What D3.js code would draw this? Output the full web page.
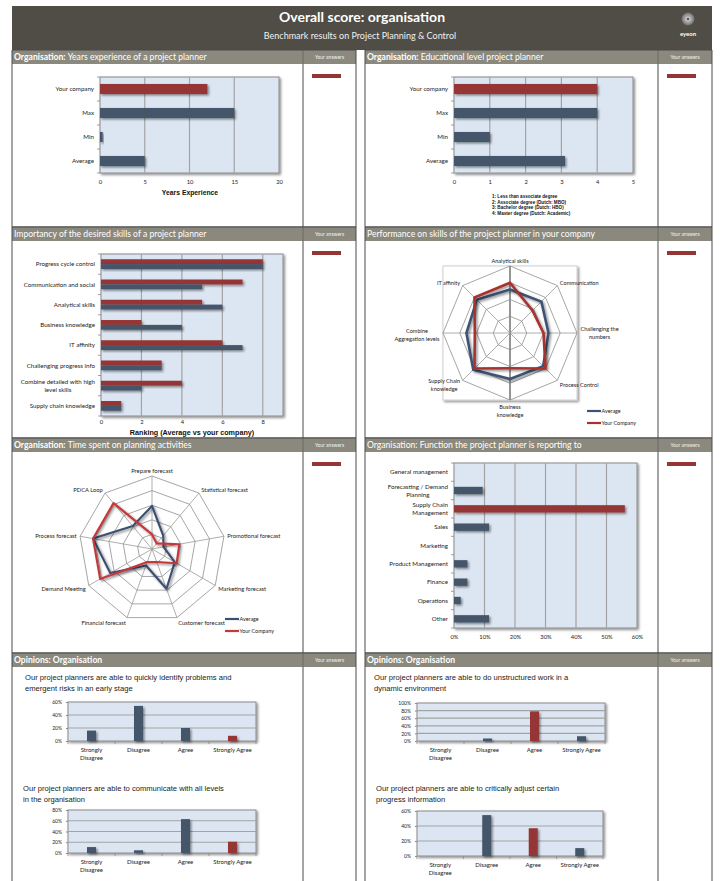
<!DOCTYPE html>
<html>
<head>
<meta charset="utf-8">
<script src="https://cdn.jsdelivr.net/npm/d3@7"></script>
<style>
body { margin: 0; background: #fff; }
svg { display: block; }
</style>
</head>
<body>
<script>
// ---- data ----
var yearsCats = ["Your company", "Max", "Min", "Average"];
var yearsValues = [12, 15, 0.3, 5];
var yearsTicks = [0, 5, 10, 15, 20];

var eduCats = ["Your company", "Max", "Min", "Average"];
var eduValues = [4, 4, 1, 3.1];
var eduTicks = [0, 1, 2, 3, 4, 5];
var eduNotes = ["1: Less than associate degree", "2: Associate degree (Dutch: MBO)",
                "3: Bachelor degree (Dutch: HBO)", "4: Master degree (Dutch: Academic)"];

var skillCats = ["Progress cycle control", "Communication and social", "Analytical skills",
                 "Business knowledge", "IT affinity", "Challenging progress info",
                 "Combine detailed with high\nlevel skills", "Supply chain knowledge"];
var skillCompany = [8, 7, 5, 2, 6, 3, 4, 1];
var skillAverage = [8, 5, 6, 4, 7, 3, 2, 1];
var skillTicks = [0, 2, 4, 6, 8];

var perfAxes = ["Analytical skills", "Communication", "Challenging the\nnumbers", "Process Control",
                "Business\nknowledge", "Supply Chain\nknowledge", "Combine\nAggregation levels", "IT affinity"];
var perfAverage = [2.6, 2.65, 2.3, 2.8, 2.75, 3.1, 2.6, 2.8];
var perfCompany = [3.0, 1.9, 2.0, 3.0, 2.1, 3.0, 2.1, 3.0];

var timeAxes = ["Prepare forecast", "Statistical forecast", "Promotional forecast", "Marketing forecast",
                "Customer forecast", "Financial forecast", "Demand Meeting", "Process forecast", "PDCA Loop"];
var timeAverage = [2.95, 1.2, 0.8, 1.8, 2.9, 1.2, 3.3, 4.1, 2.05];
var timeCompany = [1.0, 0.5, 1.9, 1.95, 0.95, 0.95, 4.1, 4.1, 4.1];

var funcCats = ["General management", "Forecasting / Demand\nPlanning", "Supply Chain\nManagement", "Sales",
                "Marketing", "Product Management", "Finance", "Operations", "Other"];
var funcShares = [0, 0.094, 0.56, 0.115, 0, 0.044, 0.044, 0.022, 0.115];
var funcAnswer = 2;
var funcTicks = [0, 0.1, 0.2, 0.3, 0.4, 0.5, 0.6];

var opinionCats = ["Strongly\nDisagree", "Disagree", "Agree", "Strongly Agree"];
var opinionQuestions = ["Our project planners are able to quickly identify problems and\nemergent risks in an early stage",
                        "Our project planners are able to do unstructured work in a\ndynamic environment",
                        "Our project planners are able to communicate with all levels\nin the organisation",
                        "Our project planners are able to critically adjust certain\nprogress information"];
var opinionIdentify = [0.16, 0.54, 0.20, 0.08];
var opinionUnstructured = [0, 0.065, 0.78, 0.125];
var opinionCommunicate = [0.11, 0.05, 0.63, 0.21];
var opinionAdjust = [0, 0.545, 0.37, 0.105];
var opinionAnswers = [3, 2, 3, 2];
var opinionMax = [0.6, 1, 0.8, 0.6];

// ---- style ----
var BLUE = "#44546a", RED = "#963634", PLOT = "#dce6f2", GRID = "#a3a3a3", FRAME = "#8a8a8a";
var BAR_HEAD = "#8b897d", DARK = "#4f4d45", LINE = "#4a4a4a";
var FONT = "Lato, 'Open Sans', sans-serif";
var ARIAL = "'Liberation Sans', Arial, sans-serif";

var svg = d3.select("body").append("svg")
  .attr("width", 720).attr("height", 881)
  .style("font-family", FONT);

var defs = svg.append("defs");
defs.append("filter").attr("id", "shadow")
  .attr("x", "-20%").attr("y", "-40%").attr("width", "160%").attr("height", "200%")
  .append("feDropShadow").attr("dx", 1.5).attr("dy", 1.5).attr("stdDeviation", 0.9)
  .attr("flood-color", "#000").attr("flood-opacity", 0.45);
var grad = defs.append("radialGradient").attr("id", "logo");
grad.append("stop").attr("offset", "0%").attr("stop-color", "#e0e0e0");
grad.append("stop").attr("offset", "100%").attr("stop-color", "#6d6d6d");

// split "\n" labels into centred tspans; side tells where x sits relative to the block
function multiline(sel, side, mode, lh) {
  sel.each(function () {
    var t = d3.select(this);
    var lines = t.text().split("\n");
    var x0 = +t.attr("x") || 0;
    var fs = parseFloat(t.attr("font-size")) || 6;
    lh = lh || fs * 1.2;
    t.text(null).attr("dy", null);
    var spans = lines.map(function (l) { return t.append("tspan").attr("x", x0).text(l); });
    var w = d3.max(spans, function (s) { return s.node().getComputedTextLength(); });
    var cx = side === "end" ? x0 - w / 2 : side === "start" ? x0 + w / 2 : x0;
    t.attr("text-anchor", "middle");
    var n = lines.length;
    spans.forEach(function (s, i) {
      s.attr("x", cx);
      if (i === 0) {
        if (mode === "top") s.attr("dy", fs * 0.75);
        else if (mode === "above") s.attr("dy", -(n - 1) * lh);
        else s.attr("dy", fs * 0.35 - (n - 1) * lh / 2);
      } else s.attr("dy", lh);
    });
  });
}

// ---- page header ----
svg.append("rect").attr("x", 12).attr("y", 6).attr("width", 700).attr("height", 44).attr("fill", DARK);
svg.append("text").attr("x", 362).attr("y", 22).attr("text-anchor", "middle")
  .attr("font-weight", "bold").attr("font-size", 14).attr("fill", "#fff")
  .text("Overall score: organisation");
svg.append("text").attr("x", 360).attr("y", 39).attr("text-anchor", "middle")
  .attr("font-size", 9).attr("fill", "#f0f0f0")
  .text("Benchmark results on Project Planning & Control");
svg.append("circle").attr("cx", 688).attr("cy", 19).attr("r", 6.5).attr("fill", "url(#logo)");
svg.append("circle").attr("cx", 688).attr("cy", 19).attr("r", 1.2).attr("fill", "#555");
svg.append("text").attr("x", 688).attr("y", 35.5).attr("text-anchor", "middle")
  .attr("font-size", 6).attr("font-weight", "bold").attr("fill", "#fff").text("eyeon");

// ---- panels ----
var cols = [{ x0: 12, x1: 356, div: 303 }, { x0: 365, x1: 712, div: 658 }];
var rows = [50, 227, 438, 653, 882];

function panel(c, top, bottom, boldText, rest, swatch) {
  var g = svg.append("g");
  g.append("rect").attr("x", c.x0).attr("y", top).attr("width", c.x1 - c.x0).attr("height", 14)
    .attr("fill", BAR_HEAD);
  g.append("line").attr("x1", c.div).attr("x2", c.div).attr("y1", top).attr("y2", top + 14)
    .attr("stroke", "#d8d6cc").attr("stroke-width", 0.8);
  var t = g.append("text").attr("x", c.x0 + 2).attr("y", top + 10.2)
    .attr("font-size", 8.6).attr("fill", "#fff");
  if (boldText) t.append("tspan").attr("font-weight", "bold").text(boldText);
  if (rest) t.append("tspan").text(rest);
  g.append("text").attr("x", (c.div + c.x1) / 2).attr("y", top + 9)
    .attr("text-anchor", "middle").attr("font-size", 5).attr("fill", "#f2f2f2").text("Your answers");
  [c.x0, c.div, c.x1].forEach(function (x) {
    g.append("line").attr("x1", x).attr("x2", x).attr("y1", top).attr("y2", bottom)
      .attr("stroke", LINE).attr("stroke-width", 1);
  });
  g.append("line").attr("x1", c.x0).attr("x2", c.x1).attr("y1", top).attr("y2", top)
    .attr("stroke", LINE).attr("stroke-width", 1);
  g.append("line").attr("x1", c.x0).attr("x2", c.x1).attr("y1", bottom).attr("y2", bottom)
    .attr("stroke", LINE).attr("stroke-width", 1);
  if (swatch) {
    g.append("rect").attr("x", c.div + 9).attr("y", top + 24).attr("width", 29).attr("height", 4)
      .attr("fill", RED);
  }
}

panel(cols[0], rows[0], rows[1], "Organisation: ", "Years experience of a project planner", true);
panel(cols[1], rows[0], rows[1], "Organisation: ", "Educational level project planner", true);
panel(cols[0], rows[1], rows[2], "", "Importancy of the desired skills of a project planner", true);
panel(cols[1], rows[1], rows[2], "", "Performance on skills of the project planner in your company", true);
panel(cols[0], rows[2], rows[3], "Organisation: ", "Time spent on planning activities", true);
panel(cols[1], rows[2], rows[3], "", "Organisation: Function the project planner is reporting to", true);
panel(cols[0], rows[3], rows[4], "Opinions: Organisation", "", false);
panel(cols[1], rows[3], rows[4], "Opinions: Organisation", "", false);

// ---- horizontal bar chart ----
function plotFrame(p) {
  svg.append("rect").attr("x", p.x).attr("y", p.y).attr("width", p.w).attr("height", p.h)
    .attr("fill", PLOT).attr("stroke", FRAME).attr("stroke-width", 1).attr("filter", "url(#shadow)");
}

function hbarChart(p, cats, series, domain, ticks, fmt, ratio, pad) {
  plotFrame(p);
  var x = d3.scaleLinear().domain(domain).range([p.x, p.x + p.w]);
  var y = d3.scaleBand().domain(cats).range([p.y, p.y + p.h]);
  var g = svg.append("g");
  g.selectAll("line.grid").data(ticks.filter(function (t) { return t > domain[0] && t < domain[1]; }))
    .join("line").attr("class", "grid")
    .attr("x1", function (d) { return x(d); }).attr("x2", function (d) { return x(d); })
    .attr("y1", p.y).attr("y2", p.y + p.h).attr("stroke", GRID).attr("stroke-width", 1.2);
  var bh = y.bandwidth() * ratio / series.length;
  var off = y.bandwidth() * (1 - ratio) / 2;
  series.forEach(function (s, si) {
    g.append("g").selectAll("rect").data(cats).join("rect")
      .attr("x", x(0))
      .attr("y", function (d) { return y(d) + off + si * bh; })
      .attr("width", function (d, i) { return Math.max(0, x(s.values[i]) - x(0)); })
      .attr("height", bh)
      .attr("fill", function (d, i) { return s.color(i); })
      .attr("filter", "url(#shadow)");
  });
  // category boundary ticks
  g.selectAll("line.ct").data(d3.range(cats.length + 1)).join("line").attr("class", "ct")
    .attr("x1", p.x - 3).attr("x2", p.x)
    .attr("y1", function (i) { return p.y + i * y.step(); })
    .attr("y2", function (i) { return p.y + i * y.step(); })
    .attr("stroke", FRAME).attr("stroke-width", 0.8);

  var xa = svg.append("g").attr("transform", "translate(0," + (p.y + p.h) + ")")
    .call(d3.axisBottom(x).tickValues(ticks).tickFormat(fmt).tickSize(0).tickPadding(pad || 7));
  xa.select(".domain").remove();
  xa.attr("font-family", FONT).attr("font-size", 5.8);
  xa.selectAll("text").attr("fill", "#222");

  var ya = svg.append("g").attr("transform", "translate(" + p.x + ",0)")
    .call(d3.axisLeft(y).tickSize(0).tickPadding(6));
  ya.select(".domain").remove();
  ya.attr("font-family", FONT).attr("font-size", 6.2);
  ya.selectAll("text").attr("fill", "#222").attr("font-size", 6.2).call(multiline, "end", "center", 8);
  return x;
}

// years experience
var yearsP = { x: 100, y: 77, w: 179, h: 96 };
hbarChart(yearsP, yearsCats, [{ values: yearsValues, color: function (i) { return i === 0 ? RED : BLUE; } }],
  [0, 20], yearsTicks, d3.format("d"), 0.42);
svg.append("text").attr("x", 190).attr("y", 195).attr("text-anchor", "middle")
  .attr("font-family", ARIAL).attr("font-weight", "bold").attr("font-size", 6.8).attr("fill", "#111")
  .text("Years Experience");

// educational level
var eduP = { x: 454, y: 77, w: 179, h: 96 };
hbarChart(eduP, eduCats, [{ values: eduValues, color: function (i) { return i === 0 ? RED : BLUE; } }],
  [0, 5], eduTicks, d3.format("d"), 0.42);
svg.append("g").selectAll("text").data(eduNotes).join("text")
  .attr("x", 492).attr("y", function (d, i) { return 198 + i * 5.6; })
  .attr("font-family", ARIAL).attr("font-weight", "bold").attr("font-size", 4.6).attr("fill", "#111")
  .text(function (d) { return d; });

// skills ranking
var skillP = { x: 101, y: 254, w: 182, h: 162 };
hbarChart(skillP, skillCats, [
  { values: skillCompany, color: function () { return RED; } },
  { values: skillAverage, color: function () { return BLUE; } }
], [0, 9], skillTicks, d3.format("d"), 0.48, 3.5);
svg.append("text").attr("x", 192).attr("y", 435).attr("text-anchor", "middle")
  .attr("font-family", ARIAL).attr("font-weight", "bold").attr("font-size", 7.2).attr("fill", "#111")
  .text("Ranking (Average vs your company)");

// function reporting to
var funcP = { x: 454, y: 463, w: 183, h: 165 };
hbarChart(funcP, funcCats, [{ values: funcShares, color: function (i) { return i === funcAnswer ? RED : BLUE; } }],
  [0, 0.6], funcTicks, d3.format(".0%"), 0.4);

// ---- radar charts ----
function radar(cx, cy, r, axes, levels, series, cfg) {
  var n = axes.length;
  var rs = d3.scaleLinear().domain([0, levels]).range([0, r]);
  var ang = function (i) { return i * 2 * Math.PI / n; };
  var g = svg.append("g").attr("transform", "translate(" + cx + "," + cy + ")");
  if (cfg.box) {
    g.append("rect").attr("x", -r).attr("y", -r).attr("width", 2 * r).attr("height", 2 * r)
      .attr("fill", "#fff").attr("stroke", "#d0d0d0").attr("filter", "url(#shadow)");
  }
  var ring = d3.lineRadial().angle(function (d, i) { return ang(i); })
    .radius(function (d) { return rs(d); }).curve(d3.curveLinearClosed);
  d3.range(1, levels + 1).forEach(function (l) {
    g.append("path").attr("d", ring(axes.map(function () { return l; })))
      .attr("fill", "none").attr("stroke", "#8f8f8f").attr("stroke-width", 0.8);
  });
  axes.forEach(function (a, i) {
    var heavy = cfg.box && (i === 0 || ang(i) === Math.PI);
    g.append("line").attr("x1", 0).attr("y1", 0)
      .attr("x2", Math.sin(ang(i)) * r).attr("y2", -Math.cos(ang(i)) * r)
      .attr("stroke", heavy ? "#8a8a8a" : "#9a9a9a").attr("stroke-width", heavy ? 1.8 : 0.8);
  });
  series.forEach(function (s) {
    g.append("path").attr("d", ring(s.values))
      .attr("fill", "none").attr("stroke", s.color).attr("stroke-width", cfg.lw)
      .attr("stroke-linejoin", "round").attr("filter", "url(#shadow)");
  });
  axes.forEach(function (a, i) {
    var sn = Math.sin(ang(i)), cs = Math.cos(ang(i));
    var lx = sn * (r + 3.5), ly = -cs * (r + 3.5);
    var side = Math.abs(sn) < 0.05 ? "middle" : sn > 0 ? "start" : "end";
    var mode = cs > 0.95 ? "above" : cs < -0.95 ? "top" : "center";
    if (mode === "top") ly += 1.5;
    if (mode === "center" && cs < 0) ly += 2;
    g.append("text").attr("x", lx).attr("y", ly).attr("font-size", cfg.fs).attr("fill", "#222")
      .text(a).call(multiline, side, mode, cfg.fs * 1.45);
  });
  var lg = svg.append("g");
  series.forEach(function (s, i) {
    var yy = cfg.legend[1] + i * 12;
    lg.append("line").attr("x1", cfg.legend[0]).attr("x2", cfg.legend[0] + 14).attr("y1", yy).attr("y2", yy)
      .attr("stroke", s.color).attr("stroke-width", 2.2);
    lg.append("text").attr("x", cfg.legend[0] + 14.5).attr("y", yy + 1.8).attr("font-size", 5.4)
      .attr("fill", "#222").text(s.name);
  });
}

radar(510, 333, 67, perfAxes, 4, [
  { name: "Average", values: perfAverage, color: "#3e5275" },
  { name: "Your Company", values: perfCompany, color: "#a8302f" }
], { box: true, lw: 2.6, fs: 5.6, legend: [587, 411] });

radar(152, 549, 73, timeAxes, 5, [
  { name: "Average", values: timeAverage, color: "#3d4f70" },
  { name: "Your Company", values: timeCompany, color: "#c4393b" }
], { box: false, lw: 2.1, fs: 5.8, legend: [225, 619] });

// ---- opinion charts ----
function vbarChart(p, q, qx, qy, values, answer, maxVal) {
  svg.append("text").attr("x", qx).attr("y", qy).attr("font-family", ARIAL).attr("font-size", 7.6)
    .attr("fill", "#1a1a1a").text(q).call(function (t) {
      var lines = q.split("\n");
      t.text(null);
      lines.forEach(function (l, i) {
        t.append("tspan").attr("x", qx).attr("dy", i === 0 ? 0 : 10.5).text(l);
      });
    });
  plotFrame(p);
  var x = d3.scaleBand().domain(opinionCats).range([p.x, p.x + p.w]);
  var y = d3.scaleLinear().domain([0, maxVal]).range([p.y + p.h, p.y]);
  var ticks = d3.range(0, maxVal + 1e-9, 0.2);
  var g = svg.append("g");
  g.selectAll("line.grid").data(ticks.slice(1, -1)).join("line")
    .attr("x1", p.x).attr("x2", p.x + p.w)
    .attr("y1", function (d) { return y(d); }).attr("y2", function (d) { return y(d); })
    .attr("stroke", GRID).attr("stroke-width", 1.2);
  var bw = 9;
  g.selectAll("rect.bar").data(opinionCats).join("rect")
    .attr("x", function (d) { return x(d) + x.bandwidth() / 2 - bw / 2; })
    .attr("y", function (d, i) { return y(values[i]); })
    .attr("width", bw)
    .attr("height", function (d, i) { return y(0) - y(values[i]); })
    .attr("fill", function (d, i) { return i === answer ? RED : BLUE; })
    .attr("filter", "url(#shadow)");
  g.selectAll("line.ct").data(d3.range(opinionCats.length + 1)).join("line")
    .attr("x1", function (i) { return p.x + i * x.step(); }).attr("x2", function (i) { return p.x + i * x.step(); })
    .attr("y1", p.y + p.h).attr("y2", p.y + p.h + 3)
    .attr("stroke", FRAME).attr("stroke-width", 0.8);

  var ya = svg.append("g").attr("transform", "translate(" + p.x + ",0)")
    .call(d3.axisLeft(y).tickValues(ticks).tickFormat(d3.format(".0%")).tickSize(2).tickPadding(4));
  ya.select(".domain").remove();
  ya.selectAll("line").attr("stroke", FRAME);
  ya.attr("font-family", FONT).attr("font-size", 5);
  ya.selectAll("text").attr("fill", "#222");

  var xa = svg.append("g").attr("transform", "translate(0," + (p.y + p.h) + ")")
    .call(d3.axisBottom(x).tickSize(0).tickPadding(6));
  xa.select(".domain").remove();
  xa.attr("font-family", FONT).attr("font-size", 6);
  xa.selectAll("text").attr("fill", "#222").attr("font-size", 6).call(multiline, "middle", "top", 8);
}

vbarChart({ x: 68, y: 702, w: 188, h: 39 }, opinionQuestions[0], 25, 680, opinionIdentify, opinionAnswers[0], opinionMax[0]);
vbarChart({ x: 417, y: 703, w: 188, h: 38 }, opinionQuestions[1], 374, 680, opinionUnstructured, opinionAnswers[1], opinionMax[1]);
vbarChart({ x: 68, y: 810, w: 188, h: 43 }, opinionQuestions[2], 23, 791, opinionCommunicate, opinionAnswers[2], opinionMax[2]);
vbarChart({ x: 417, y: 811, w: 186, h: 45 }, opinionQuestions[3], 376, 791, opinionAdjust, opinionAnswers[3], opinionMax[3]);
</script>
</body>
</html>
